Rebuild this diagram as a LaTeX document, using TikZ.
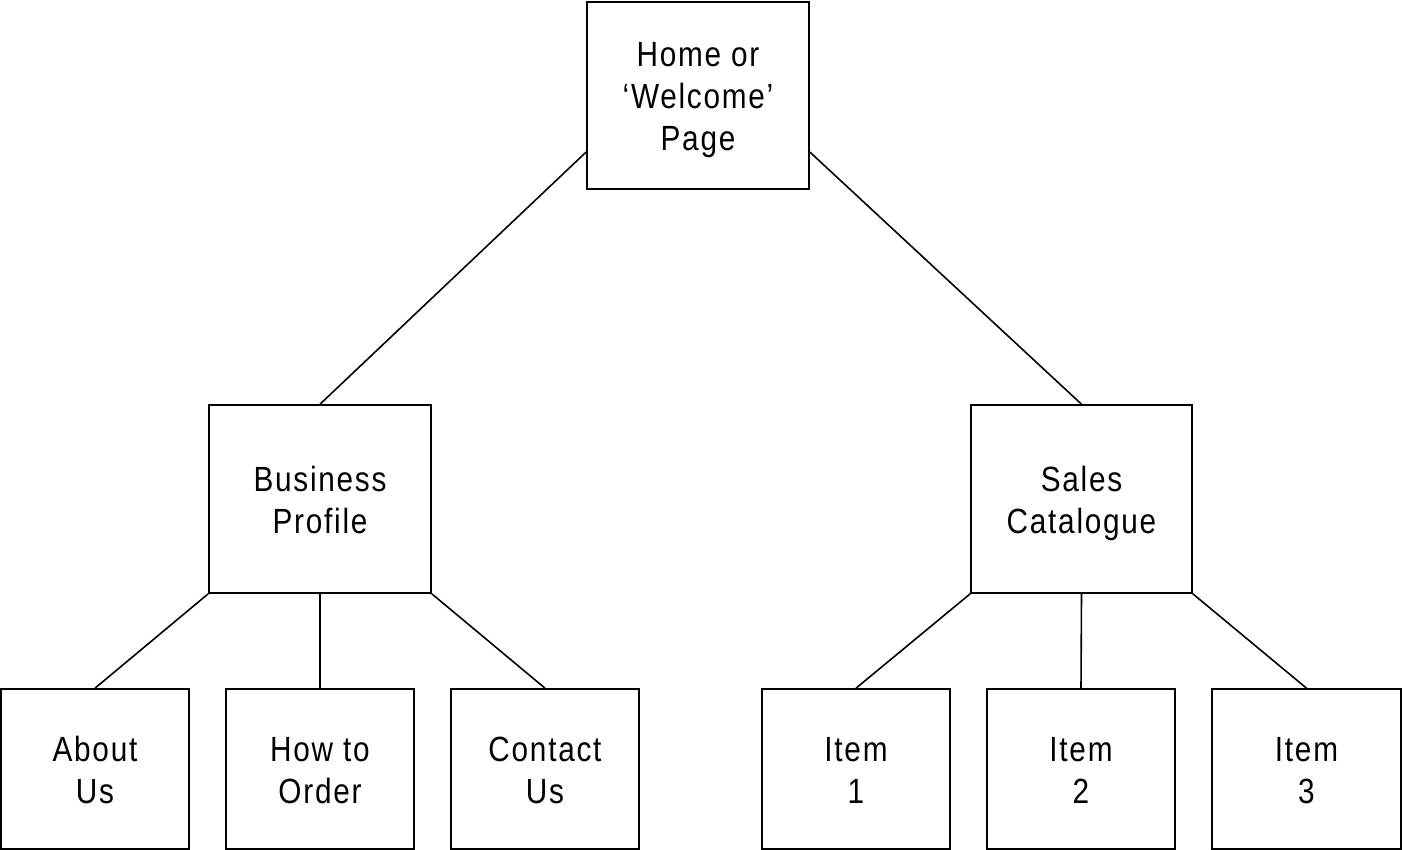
\documentclass[tikz,border=0pt]{standalone}
\usepackage{fontspec}
\setmainfont{Liberation Sans}[FakeStretch=0.85,LetterSpace=5]
\newcommand{\ls}{\rule[-8pt]{0pt}{42pt}}
\begin{document}
\begin{tikzpicture}[x=1pt,y=-1pt,
  pagebox/.style={draw=black,line width=1.6pt,fill=white,inner sep=0pt,align=center,
    font=\fontsize{35}{42}\selectfont},
  link/.style={draw=black,line width=1.6pt}]
\useasboundingbox (0,0) rectangle (1403,850);
\node[pagebox,minimum width=222pt,minimum height=187pt] (home) at (698,95.5) {\ls Home or\\‘Welcome’\\\ls Page};
\node[pagebox,minimum width=222pt,minimum height=188pt] (biz) at (320,499) {\ls Business\\\ls Profile};
\node[pagebox,minimum width=221pt,minimum height=188pt] (sales) at (1081.5,499) {\ls Sales\\\ls Catalogue};
\node[pagebox,minimum width=188pt,minimum height=160pt] (about) at (95,769) {\ls About\\\ls Us};
\node[pagebox,minimum width=188pt,minimum height=160pt] (order) at (320,769) {\ls How to\\\ls Order};
\node[pagebox,minimum width=188pt,minimum height=160pt] (contact) at (545,769) {\ls Contact\\\ls Us};
\node[pagebox,minimum width=188pt,minimum height=160pt] (item1) at (856,769) {\ls Item\\\ls 1};
\node[pagebox,minimum width=188pt,minimum height=160pt] (item2) at (1081,769) {\ls Item\\\ls 2};
\node[pagebox,minimum width=189pt,minimum height=160pt] (item3) at (1306.5,769) {\ls Item\\\ls 3};
\draw[link] (home.west |- 0,152) -- (biz.north);
\draw[link] (home.east |- 0,152) -- (sales.north);
\draw[link] (biz.south west) -- (about.north);
\draw[link] (biz.south) -- (order.north);
\draw[link] (biz.south east) -- (contact.north);
\draw[link] (sales.south west) -- (item1.north);
\draw[link] (sales.south) -- (item2.north);
\draw[link] (sales.south east) -- (item3.north);
\end{tikzpicture}
\end{document}
